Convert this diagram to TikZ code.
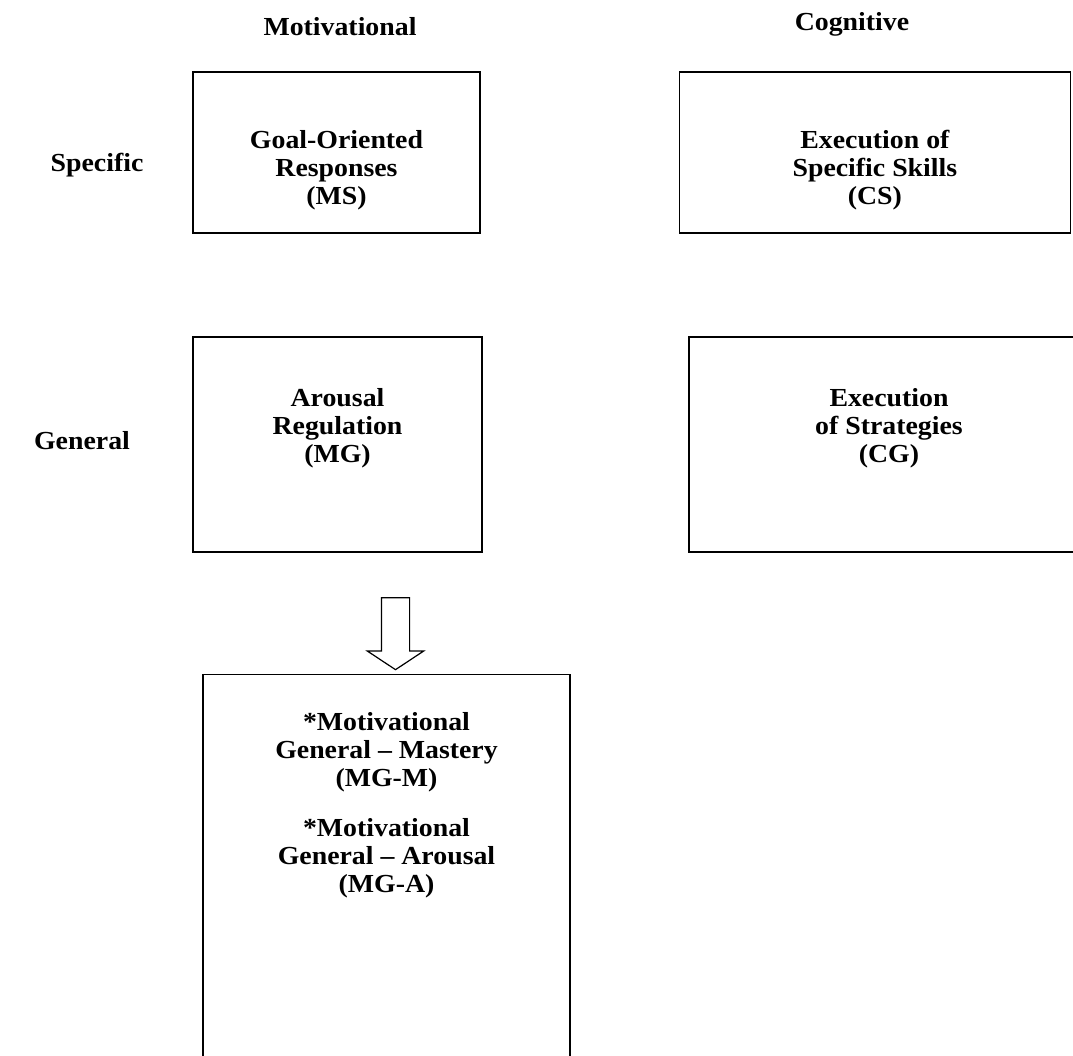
\documentclass[tikz,border=0pt]{standalone}
\usepackage{fontspec}
\setmainfont{Liberation Serif}[FakeStretch=1.07]
\usetikzlibrary{shapes,arrows,positioning}

\begin{document}
\begin{tikzpicture}[
    x=1pt, y=-1pt,
    every node/.style={font=\bfseries\fontsize{26}{28}\selectfont},
    block/.style={rectangle, draw, line width=1.4pt, inner sep=0pt},
    heading/.style={align=center, inner sep=0pt},
    bigarrow/.style={single arrow, draw, line width=1.2pt, shape border rotate=270, minimum height=72pt, single arrow head extend=14pt, single arrow tip angle=113, inner sep=13.5pt}
]

    \clip (0,0) rectangle (1073,1056);

    % Column and row headings
    \node [heading] (motiv) at (340,27) {Motivational};
    \node [heading] (cogn) at (852,24) {Cognitive};
    \node [heading] (spec) at (97,165) {Specific};
    \node [heading] (gen) at (82,441) {General};

    % Specific row
    \node [block, minimum width=287pt, minimum height=161pt] (ms) at (336.5,152.5) {};
    \node [block, minimum width=391pt, minimum height=161pt, right=198pt of ms] (cs) {};
    \node [heading] (mstext) at ([yshift=-18pt]ms.center) {Goal-Oriented\\Responses\\(MS)};
    \node [heading] (cstext) at ([yshift=-18pt]cs.center) {Execution of\\Specific Skills\\(CS)};

    % General row
    \node [block, minimum width=289pt, minimum height=215pt] (mg) at (337.5,444.5) {};
    \node [block, minimum width=400pt, minimum height=215pt] (cg) at (889,444.5) {};
    \node [heading] (mgtext) at ([yshift=16pt]mg.center) {Arousal\\Regulation\\(MG)};
    \node [heading] (cgtext) at ([yshift=16pt]cg.center) {Execution\\of Strategies\\(CG)};

    % Split of the general motivational box
    \node [bigarrow] (split) at (395.5,629) {};
    \node [block, minimum width=367pt, minimum height=420pt, anchor=north] (mgbox) at (386.5,674) {};
    \node [heading, below=38pt of mgbox.north] (mgsub) {*Motivational\\General -- Mastery\\(MG-M)\\[22pt]*Motivational\\General -- Arousal\\(MG-A)};

\end{tikzpicture}
\end{document}
